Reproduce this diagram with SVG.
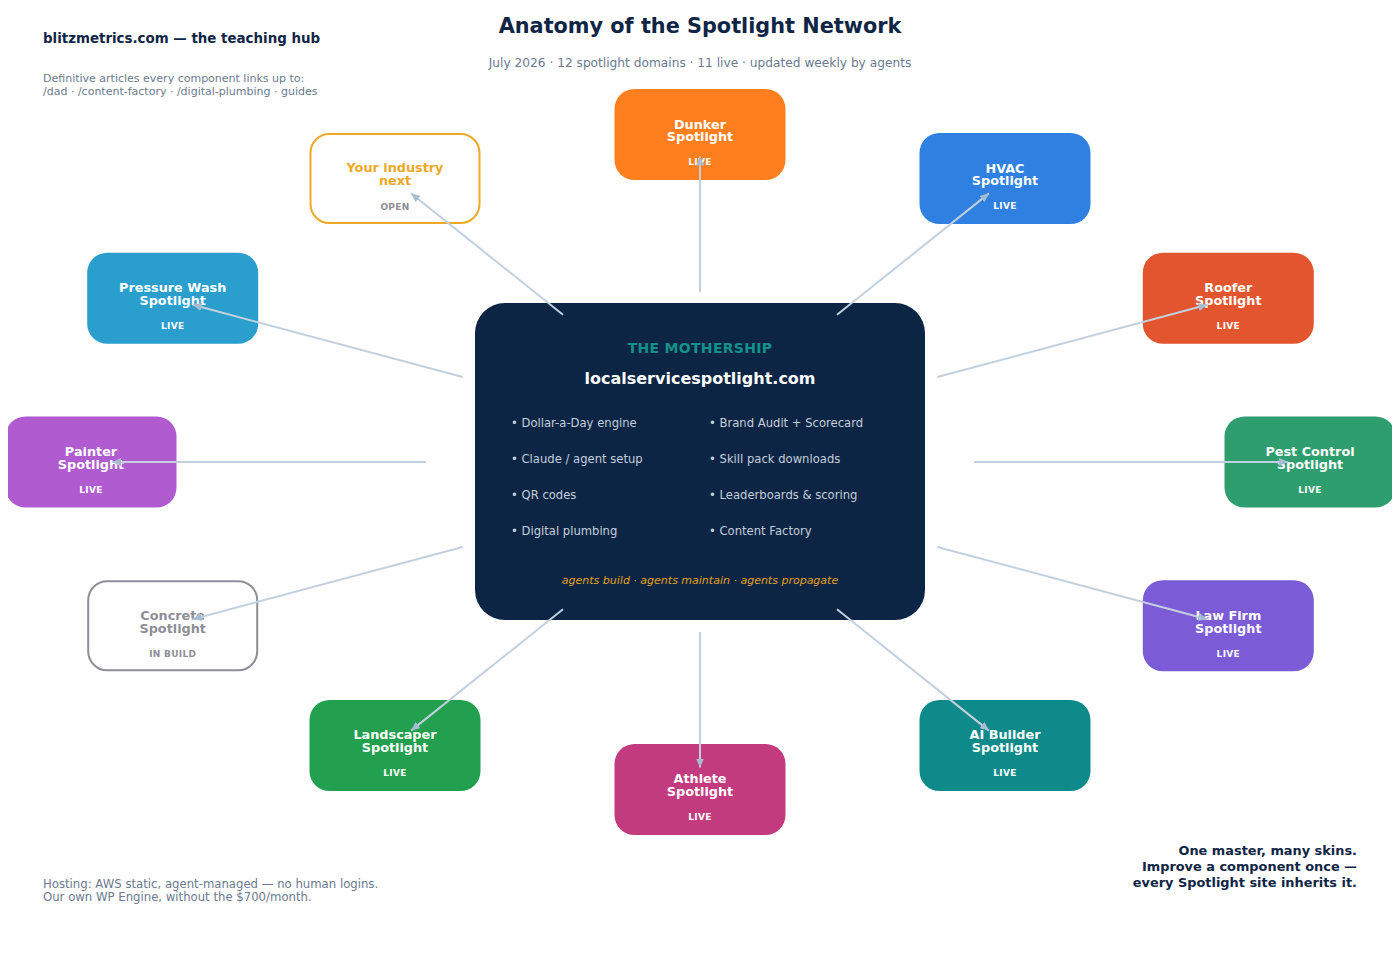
<svg xmlns="http://www.w3.org/2000/svg" width="1400" height="959" viewBox="0 0 1400 959">
<style>
.t{font-family:"DejaVu Sans","Liberation Sans",sans-serif}
.nm{font-family:"DejaVu Sans",sans-serif;font-weight:bold;font-size:12.8px;fill:#ffffff;text-anchor:middle}
.st{font-family:"DejaVu Sans",sans-serif;font-weight:bold;font-size:9px;fill:#ffffff;text-anchor:middle;letter-spacing:0.3px}
.bl{font-family:"DejaVu Sans",sans-serif;font-size:11.6px;fill:#c3cedb}
.gr{font-family:"DejaVu Sans",sans-serif;font-size:11px;fill:#6b7a90}
.cn{stroke:#c2d0de;stroke-width:2;fill:none;marker-end:url(#ah)}
</style>
<defs>
<marker id="ah" markerUnits="userSpaceOnUse" markerWidth="9" markerHeight="8" refX="9" refY="4" orient="auto">
<path d="M0,0 L9,4 L0,8 z" fill="#a9bdd2"/>
</marker>
<clipPath id="cp"><rect x="8" y="0" width="1384" height="959"/></clipPath>
</defs>
<rect width="1400" height="959" fill="#ffffff"/>

<g id="header">
<text class="t" x="700" y="33" font-size="20.8" font-weight="bold" fill="#0f2545" text-anchor="middle">Anatomy of the Spotlight Network</text>
<text class="t" x="700" y="67" font-size="12.2" fill="#6b7a90" text-anchor="middle">July 2026 · 12 spotlight domains · 11 live · updated weekly by agents</text>
<text class="t" x="43" y="43" font-size="13.4" font-weight="bold" fill="#0f2545">blitzmetrics.com — the teaching hub</text>
<text class="gr" x="43" y="82">Definitive articles every component links up to:</text>
<text class="gr" x="43" y="95">/dad · /content-factory · /digital-plumbing · guides</text>
</g>

<g id="footer">
<text class="t" x="43" y="888" font-size="11.7" fill="#6b7a90">Hosting: AWS static, agent-managed — no human logins.</text>
<text class="t" x="43" y="901" font-size="11.7" fill="#6b7a90">Our own WP Engine, without the $700/month.</text>
<g class="t" font-size="12.9" font-weight="bold" fill="#0f2545" text-anchor="end">
<text x="1357" y="855">One master, many skins.</text>
<text x="1357" y="871">Improve a component once —</text>
<text x="1357" y="887">every Spotlight site inherits it.</text>
</g>
</g>

<g id="mothership">
<rect x="475" y="303" width="450" height="317" rx="30" fill="#0c2545"/>
<text class="t" x="700" y="353" font-size="14" font-weight="bold" fill="#14928a" text-anchor="middle" letter-spacing="0.3">THE MOTHERSHIP</text>
<text class="t" x="700" y="384" font-size="16" font-weight="bold" fill="#ffffff" text-anchor="middle">localservicespotlight.com</text>
<text class="bl" x="511" y="427">• Dollar-a-Day engine</text>
<text class="bl" x="511" y="463">• Claude / agent setup</text>
<text class="bl" x="511" y="499">• QR codes</text>
<text class="bl" x="511" y="535">• Digital plumbing</text>
<text class="bl" x="709" y="427">• Brand Audit + Scorecard</text>
<text class="bl" x="709" y="463">• Skill pack downloads</text>
<text class="bl" x="709" y="499">• Leaderboards &amp; scoring</text>
<text class="bl" x="709" y="535">• Content Factory</text>
<text class="t" x="700" y="584" font-size="11" font-style="italic" fill="#e0a020" text-anchor="middle">agents build · agents maintain · agents propagate</text>
</g>

<g clip-path="url(#cp)">
<g id="n-dunker">
<rect x="614.5" y="89" width="171" height="91" rx="20" fill="#ff7f1e"/>
<text class="nm" x="700" y="128.5">Dunker</text><text class="nm" x="700" y="141">Spotlight</text><text class="st" x="700" y="165">LIVE</text>
</g>
<g id="n-hvac">
<rect x="919.5" y="133" width="171" height="91" rx="20" fill="#2f80e0"/>
<text class="nm" x="1005" y="172.5">HVAC</text><text class="nm" x="1005" y="185">Spotlight</text><text class="st" x="1005" y="209">LIVE</text>
</g>
<g id="n-roofer">
<rect x="1142.8" y="252.75" width="171" height="91" rx="20" fill="#e3552f"/>
<text class="nm" x="1228.3" y="292">Roofer</text><text class="nm" x="1228.3" y="304.5">Spotlight</text><text class="st" x="1228.3" y="329">LIVE</text>
</g>
<g id="n-pest">
<rect x="1224.5" y="416.5" width="171" height="91" rx="20" fill="#2e9e6e"/>
<text class="nm" x="1310" y="456">Pest Control</text><text class="nm" x="1310" y="468.5">Spotlight</text><text class="st" x="1310" y="493">LIVE</text>
</g>
<g id="n-lawfirm">
<rect x="1142.8" y="580.25" width="171" height="91" rx="20" fill="#7b5bd6"/>
<text class="nm" x="1228.3" y="620">Law Firm</text><text class="nm" x="1228.3" y="632.5">Spotlight</text><text class="st" x="1228.3" y="657">LIVE</text>
</g>
<g id="n-aibuilder">
<rect x="919.5" y="700" width="171" height="91" rx="20" fill="#0e8a8a"/>
<text class="nm" x="1005" y="739">AI Builder</text><text class="nm" x="1005" y="751.5">Spotlight</text><text class="st" x="1005" y="776">LIVE</text>
</g>
<g id="n-athlete">
<rect x="614.5" y="744" width="171" height="91" rx="20" fill="#c23b7e"/>
<text class="nm" x="700" y="783">Athlete</text><text class="nm" x="700" y="795.5">Spotlight</text><text class="st" x="700" y="820">LIVE</text>
</g>
<g id="n-landscaper">
<rect x="309.5" y="700" width="171" height="91" rx="20" fill="#22a04f"/>
<text class="nm" x="395" y="739">Landscaper</text><text class="nm" x="395" y="751.5">Spotlight</text><text class="st" x="395" y="776">LIVE</text>
</g>
<g id="n-concrete">
<rect x="88.2" y="581.25" width="169" height="89" rx="19" fill="#ffffff" stroke="#8e8e98" stroke-width="2"/>
<text class="nm" x="172.7" y="620" style="fill:#8e8e98">Concrete</text><text class="nm" x="172.7" y="632.5" style="fill:#8e8e98">Spotlight</text><text class="st" x="172.7" y="657" style="fill:#8e8e98">IN BUILD</text>
</g>
<g id="n-painter">
<rect x="5.5" y="416.5" width="171" height="91" rx="20" fill="#b05bcf"/>
<text class="nm" x="91" y="456">Painter</text><text class="nm" x="91" y="468.5">Spotlight</text><text class="st" x="91" y="493">LIVE</text>
</g>
<g id="n-pressurewash">
<rect x="87.2" y="252.75" width="171" height="91" rx="20" fill="#2a9fcd"/>
<text class="nm" x="172.7" y="292">Pressure Wash</text><text class="nm" x="172.7" y="304.5">Spotlight</text><text class="st" x="172.7" y="329">LIVE</text>
</g>
<g id="n-yourindustry">
<rect x="310.5" y="134" width="169" height="89" rx="19" fill="#ffffff" stroke="#eea827" stroke-width="2"/>
<text class="nm" x="395" y="172" style="fill:#eea827">Your industry</text><text class="nm" x="395" y="184.5" style="fill:#eea827">next</text><text class="st" x="395" y="210" style="fill:#8e8e98">OPEN</text>
</g>
</g>

<g id="connectors">
<line class="cn" x1="700" y1="292" x2="700" y2="156.5"/>
<line class="cn" x1="837" y1="314.8" x2="988.9" y2="193.4"/>
<line class="cn" x1="937.3" y1="377" x2="1207.3" y2="304.8"/>
<line class="cn" x1="974" y1="462" x2="1288" y2="462"/>
<line class="cn" x1="937.3" y1="547" x2="1207.3" y2="619.2"/>
<line class="cn" x1="837" y1="609.2" x2="988.9" y2="730.6"/>
<line class="cn" x1="700" y1="632" x2="700" y2="767.5"/>
<line class="cn" x1="563" y1="609.2" x2="411.1" y2="730.6"/>
<line class="cn" x1="462.7" y1="547" x2="192.7" y2="619.2"/>
<line class="cn" x1="426" y1="462" x2="112" y2="462"/>
<line class="cn" x1="462.7" y1="377" x2="192.7" y2="304.8"/>
<line class="cn" x1="563" y1="314.8" x2="411.1" y2="193.4"/>
</g>
</svg>
